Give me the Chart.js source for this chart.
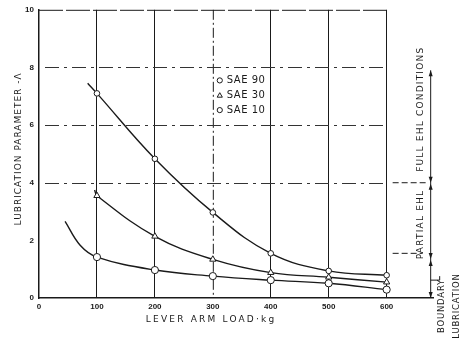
<!DOCTYPE html>
<html>
<head>
<meta charset="utf-8">
<script src="https://cdn.jsdelivr.net/npm/chart.js@4/dist/chart.umd.min.js"></script>
<style>
  html, body { margin: 0; padding: 0; background: #fff; }
  #wrap { width: 463px; height: 345px; }
</style>
</head>
<body>
<div id="wrap"><canvas id="chart" width="463" height="345"></canvas></div>
<script>
// axis ticks
const xTicks = [0, 100, 200, 300, 400, 500, 600];
const yTicks = [0, 2, 4, 6, 8, 10];
const dashedLevels = [4, 6, 8];

// lever arm load (kg) at the measured points
const loads = [100, 200, 300, 400, 500, 600];

// lubrication parameter values
const sae90 = [7.1, 4.83, 2.97, 1.55, 0.94, 0.79];
const sae30 = [3.55, 2.14, 1.34, 0.88, 0.72, 0.55];
const sae10 = [1.42, 0.97, 0.76, 0.62, 0.51, 0.29];

// curve drawn before the first marker, [load, value]
const sae90Lead = [[84, 7.45]];
const sae30Lead = [[96, 3.75]];
const sae10Lead = [[45, 2.66], [71, 1.83]];

const seriesNames = ["SAE 90", "SAE 30", "SAE 10"];
const seriesValues = [sae90, sae30, sae10];
const seriesLeads = [sae90Lead, sae30Lead, sae10Lead];
const seriesMarker = ["circle", "triangle", "circle"];
const seriesRadius = [2.8, 3.6, 3.6];

const INK = "#1a1a1a";

function buildSeries(i) {
  const lead = seriesLeads[i].map((p) => ({ x: p[0], y: p[1] }));
  const marks = loads.map((x, j) => ({ x: x, y: seriesValues[i][j] }));
  const pts = lead.concat(marks);
  return {
    label: seriesNames[i],
    data: pts,
    borderColor: INK,
    borderWidth: 1.4,
    backgroundColor: "#fff",
    pointStyle: seriesMarker[i],
    pointRadius: pts.map((p, k) => (k < lead.length ? 0 : seriesRadius[i])),
    pointBorderWidth: 1,
    pointBorderColor: INK,
    pointBackgroundColor: "#fff",
    tension: 0.4,
    fill: false,
  };
}

// extra drawing: top border, dashed lines, legend, titles, regime arrows
const annotations = {
  id: "annotations",
  beforeDatasetsDraw(chart) {
    const { ctx } = chart;
    const x = chart.scales.x, y = chart.scales.y;
    ctx.save();
    ctx.strokeStyle = INK;
    ctx.lineWidth = 1;
    // dash-dot line at 300
    ctx.setLineDash([10, 3, 2, 3]);
    ctx.beginPath();
    ctx.moveTo(x.getPixelForValue(300) + 0.5, y.getPixelForValue(10));
    ctx.lineTo(x.getPixelForValue(300) + 0.5, y.getPixelForValue(0));
    ctx.stroke();
    // dash-dot horizontal levels, inside the 0-600 frame
    ctx.strokeStyle = "#333";
    ctx.setLineDash([14, 5, 3, 5]);
    dashedLevels.forEach((v) => {
      const py = Math.round(y.getPixelForValue(v)) + 0.5;
      ctx.beginPath();
      ctx.moveTo(x.getPixelForValue(0) + 6, py);
      ctx.lineTo(x.getPixelForValue(600), py);
      ctx.stroke();
    });
    // top border up to 600
    ctx.strokeStyle = INK;
    ctx.setLineDash([24, 3]);
    ctx.beginPath();
    ctx.moveTo(x.getPixelForValue(0), y.getPixelForValue(10) + 0.5);
    ctx.lineTo(x.getPixelForValue(600), y.getPixelForValue(10) + 0.5);
    ctx.stroke();
    ctx.restore();
  },
  afterDraw(chart) {
    const { ctx } = chart;
    const x = chart.scales.x, y = chart.scales.y;
    ctx.save();
    ctx.fillStyle = INK;
    ctx.strokeStyle = INK;

    // legend inside the plot
    ctx.font = "10px 'DejaVu Sans'";
    ctx.letterSpacing = "0.5px";
    ctx.textBaseline = "middle";
    ctx.textAlign = "left";
    const lx = x.getPixelForValue(312);
    [7.55, 7.02, 6.52].forEach((v, i) => {
      const ly = y.getPixelForValue(v);
      ctx.fillStyle = "#fff";
      ctx.lineWidth = 1;
      Chart.helpers.drawPoint(ctx, { pointStyle: seriesMarker[i], radius: i === 1 ? 3 : 2.6, borderWidth: 1, rotation: 0 }, lx, ly);
      ctx.fillStyle = INK;
      ctx.fillText(seriesNames[i], lx + 7, ly);
    });

    // x axis title
    ctx.font = "9px 'DejaVu Sans'";
    ctx.letterSpacing = "2.2px";
    ctx.textAlign = "center";
    ctx.fillText("LEVER ARM LOAD\u00b7kg", x.getPixelForValue(297), y.bottom + 22);

    // y axis title
    ctx.save();
    ctx.translate(19, (y.top + y.bottom) / 2 - 5);
    ctx.rotate(-Math.PI / 2);
    ctx.letterSpacing = "1px";
    ctx.fillText("LUBRICATION PARAMETER -\u039b", 0, 0);
    ctx.restore();

    // regime scale on the right
    const ax = x.getPixelForValue(676);
    const yTop = y.getPixelForValue(7.9), y4 = y.getPixelForValue(4), y1 = y.getPixelForValue(1.35), y0 = y.getPixelForValue(0);
    ctx.lineWidth = 1;
    ctx.setLineDash([]);
    ctx.beginPath();
    ctx.moveTo(ax, yTop);
    ctx.lineTo(ax, y0);
    ctx.stroke();
    function head(py, dir) {
      ctx.beginPath();
      ctx.moveTo(ax, py);
      ctx.lineTo(ax - 2, py - dir * 6);
      ctx.lineTo(ax + 2, py - dir * 6);
      ctx.closePath();
      ctx.fill();
    }
    head(yTop, -1);
    head(y4, 1);
    head(y4 + 1, -1);
    head(y1, 1);
    head(y1 + 1, -1);
    head(y0, 1);
    // dashed leaders from the plot to the scale
    ctx.setLineDash([6, 3]);
    ctx.beginPath();
    ctx.moveTo(x.getPixelForValue(600) + 6, y4);
    ctx.lineTo(ax - 3, y4);
    ctx.moveTo(x.getPixelForValue(600) + 6, y.getPixelForValue(1.55));
    ctx.lineTo(ax - 8, y.getPixelForValue(1.55));
    ctx.stroke();
    ctx.setLineDash([]);
    // boundary bracket
    const by = y.getPixelForValue(0.62);
    ctx.beginPath();
    ctx.moveTo(ax, by);
    ctx.lineTo(ax + 9, by);
    ctx.lineTo(ax + 9, by - 4);
    ctx.stroke();

    ctx.font = "9px 'DejaVu Sans'";
    ctx.letterSpacing = "1.2px";
    ctx.textAlign = "center";
    function vtext(t, px, py) {
      ctx.save();
      ctx.translate(px, py);
      ctx.rotate(-Math.PI / 2);
      ctx.fillText(t, 0, 0);
      ctx.restore();
    }
    vtext("FULL EHL CONDITIONS", ax - 10, y.getPixelForValue(6.55));
    vtext("PARTIAL EHL", ax - 10, y.getPixelForValue(2.55));
    ctx.font = "8.5px 'DejaVu Sans'";
    ctx.letterSpacing = "0.8px";
    vtext("BOUNDARY", ax + 11, y0 + 8);
    vtext("LUBRICATION", ax + 26, y0 + 8);
    ctx.restore();
  },
};

new Chart(document.getElementById("chart"), {
  type: "line",
  data: { datasets: [0, 1, 2].map(buildSeries) },
  options: {
    responsive: false,
    animation: false,
    layout: { padding: { top: 8, right: 30, left: 0, bottom: 0 } },
    plugins: { legend: { display: false }, tooltip: { enabled: false } },
    scales: {
      x: {
        type: "linear",
        min: 0,
        max: 680,
        afterBuildTicks: (s) => { s.ticks = xTicks.map((v) => ({ value: v })); },
        afterFit: (s) => { s.height = 47; },
        grid: {
          drawTicks: false,
          color: (c) => (c.tick && (c.tick.value === 0 || c.tick.value === 300) ? "transparent" : INK),
          lineWidth: 1,
        },
        border: { display: true, color: INK, width: 1.5 },
        ticks: {
          padding: 4,
          color: INK,
          font: { family: "'Liberation Sans'", size: 8, weight: "bold" },
        },
      },
      y: {
        min: 0,
        max: 10,
        afterBuildTicks: (s) => { s.ticks = yTicks.map((v) => ({ value: v })); },
        afterFit: (s) => { s.width = 39; },
        grid: { display: false, drawTicks: false },
        border: { display: true, color: INK, width: 1.5 },
        ticks: {
          padding: 5,
          color: INK,
          font: { family: "'Liberation Sans'", size: 8, weight: "bold" },
        },
      },
    },
  },
  plugins: [annotations],
});
</script>
</body>
</html>
